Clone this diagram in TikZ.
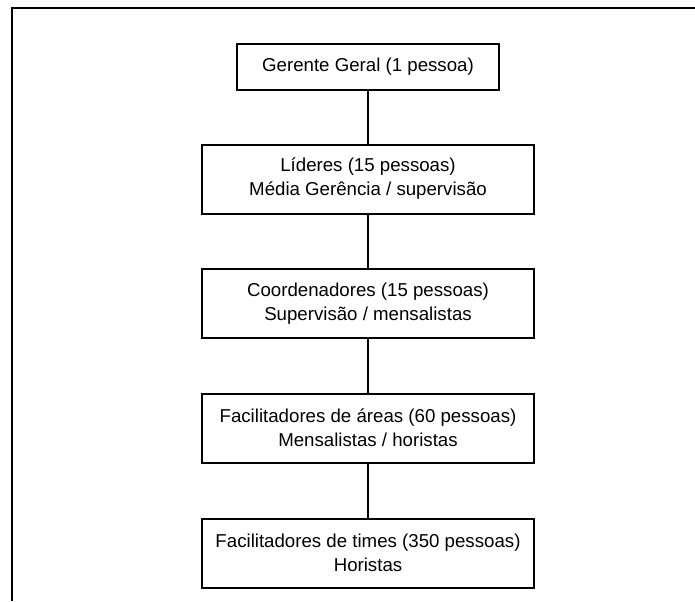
\documentclass[tikz,border=0pt]{standalone}
\usepackage{fontspec}
\setmainfont{Liberation Sans}
\begin{document}
\begin{tikzpicture}[x=0.75pt,y=-0.75pt,
  level/.style={draw,line width=1.5pt,align=center,inner sep=0pt,
    minimum width=249pt,minimum height=51.75pt,
    font=\fontsize{14}{18}\selectfont},
  link/.style={line width=1.5pt},
  frame/.style={line width=1.5pt}]
\useasboundingbox (0,0) rectangle (695,601);
% open frame around the chart
\draw[frame] (11.5,601) -- (11.5,7.5) -- (695,7.5);
% hierarchy levels
\node[level,minimum width=196.5pt,minimum height=34.5pt] (gerente) at (368,67) {Gerente Geral (1 pessoa)};
\node[level] (lideres) at (368,179) {Líderes (15 pessoas)\\Média Gerência / supervisão};
\node[level] (coord) at (368,303.5) {Coordenadores (15 pessoas)\\Supervisão / mensalistas};
\node[level] (areas) at (368,428) {Facilitadores de áreas (60 pessoas)\\Mensalistas / horistas};
\node[level] (times) at (368,553) {Facilitadores de times (350 pessoas)\\Horistas};
% reporting lines
\draw[link] (gerente) -- (lideres);
\draw[link] (lideres) -- (coord);
\draw[link] (coord) -- (areas);
\draw[link] (areas) -- (times);
\end{tikzpicture}
\end{document}
